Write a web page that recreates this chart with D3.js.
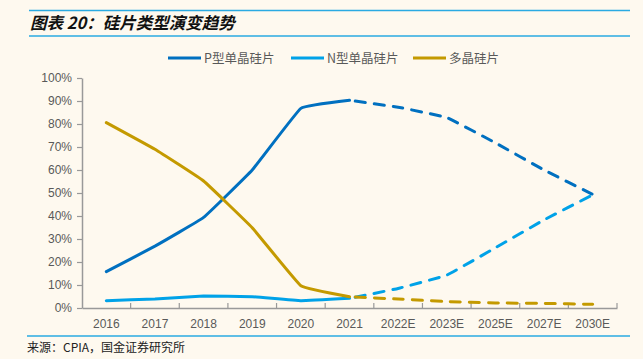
<!DOCTYPE html>
<html><head><meta charset="utf-8">
<script src="https://cdn.jsdelivr.net/npm/d3@7"></script>
<style>
html,body{margin:0;padding:0;background:#FEF9EF;}
svg{display:block;font-family:"Liberation Sans","Noto Sans CJK SC",sans-serif;}
</style></head><body>
<svg id="c" width="643" height="359"></svg>
<script>
const categories = ["2016","2017","2018","2019","2020","2021","2022E","2023E","2025E","2027E","2030E"];
const pType = [15.8, 26.9, 39.4, 60.0, 86.8, 90.3, 87.3, 82.8, 71.8, 60.0, 49.4];
const nType = [3.2, 3.9, 5.2, 4.9, 3.2, 4.2, 8.5, 14.3, 26.2, 38.3, 49.2];
const multi = [80.6, 69.0, 55.2, 34.9, 9.7, 4.9, 3.9, 2.8, 2.2, 2.0, 1.6];
const yTicks = [0,10,20,30,40,50,60,70,80,90,100];
const seriesNames = ["P型单晶硅片","N型单晶硅片","多晶硅片"];
const actualCount = 6;

const colors = ["#0070C0","#00A2E8","#C49A00"];
const svg = d3.select("#c");

// title
svg.append("line").attr("x1",29).attr("x2",630).attr("y1",10.5).attr("y2",10.5).attr("stroke","#2AAAE2").attr("stroke-width",1.5);
svg.append("line").attr("x1",29).attr("x2",630).attr("y1",36).attr("y2",36).attr("stroke","#2AAAE2").attr("stroke-width",1.5);
svg.append("text").attr("x",30).attr("y",29).text("图表 20：硅片类型演变趋势")
  .attr("font-family","'Noto Sans CJK SC',sans-serif").attr("font-weight","bold").attr("font-style","italic")
  .attr("font-size",16.5).attr("fill","#111");

// source
svg.append("line").attr("x1",27).attr("x2",630).attr("y1",336).attr("y2",336).attr("stroke","#2AAAE2").attr("stroke-width",1.5);
svg.append("text").attr("x",27).attr("y",352).text("来源：CPIA，国金证券研究所")
  .attr("font-family","'Noto Sans CJK SC',sans-serif").attr("font-size",12).attr("fill","#222");

const x = d3.scaleBand().domain(categories).range([82,617]);
const y = d3.scaleLinear().domain([0,100]).range([308,78]);

// y axis
const ya = svg.append("g").attr("transform","translate(82,0)")
  .call(d3.axisLeft(y).tickValues(yTicks).tickFormat(d=>d+"%").tickSize(5).tickSizeOuter(0));
ya.select(".domain").attr("stroke","#999").attr("stroke-width",1.5);
ya.selectAll(".tick line").attr("stroke","#999").attr("stroke-width",1.2);
ya.selectAll("text").attr("font-size",12).attr("fill","#595959").attr("x",-10)
  .attr("font-family","'Liberation Sans',Arial,sans-serif");

// x axis
const xa = svg.append("g").attr("transform","translate(0,308)")
  .call(d3.axisBottom(x).tickSize(0).tickSizeOuter(0));
xa.select(".domain").attr("stroke","#999").attr("stroke-width",1.5);
xa.selectAll("text").attr("font-size",12).attr("fill","#595959").attr("dy","1.45em")
  .attr("font-family","'Liberation Sans',Arial,sans-serif");
const bounds = categories.slice(1).map(c=>x(c)).concat([x.range()[1]]);
xa.selectAll(".bt").data(bounds).enter().append("line").attr("class","bt")
  .attr("x1",d=>d).attr("x2",d=>d).attr("y1",0).attr("y2",-5).attr("stroke","#999").attr("stroke-width",1.2);

const cx = c => x(c) + x.bandwidth()/2;
const allSeries = [pType,nType,multi];
const lineGen = d3.line().x(d=>cx(d.c)).y(d=>y(d.v)).curve(d3.curveCardinal.tension(0.75));

allSeries.forEach((vals,i)=>{
  const pts = categories.map((c,j)=>({c,v:vals[j]}));
  const solid = pts.slice(0,actualCount);
  const dashed = pts.slice(actualCount-1);
  svg.append("path").attr("d",lineGen(solid)).attr("fill","none").attr("stroke",colors[i])
    .attr("stroke-width",3).attr("stroke-linejoin","round").attr("stroke-linecap","round");
  svg.append("path").attr("d",lineGen(dashed)).attr("fill","none").attr("stroke",colors[i])
    .attr("stroke-width",3).attr("stroke-dasharray","10,9").attr("stroke-linecap","round").attr("stroke-dashoffset",-6);
});

// legend
const legX = [168,291,413];
seriesNames.forEach((n,i)=>{
  svg.append("line").attr("x1",legX[i]).attr("x2",legX[i]+33).attr("y1",58).attr("y2",58)
    .attr("stroke",colors[i]).attr("stroke-width",3);
  svg.append("text").attr("x",legX[i]+36).attr("y",62.5).text(n)
    .attr("font-size",12.5).attr("fill","#595959").attr("font-family","'Noto Sans CJK SC',sans-serif");
});
</script>
</body></html>
